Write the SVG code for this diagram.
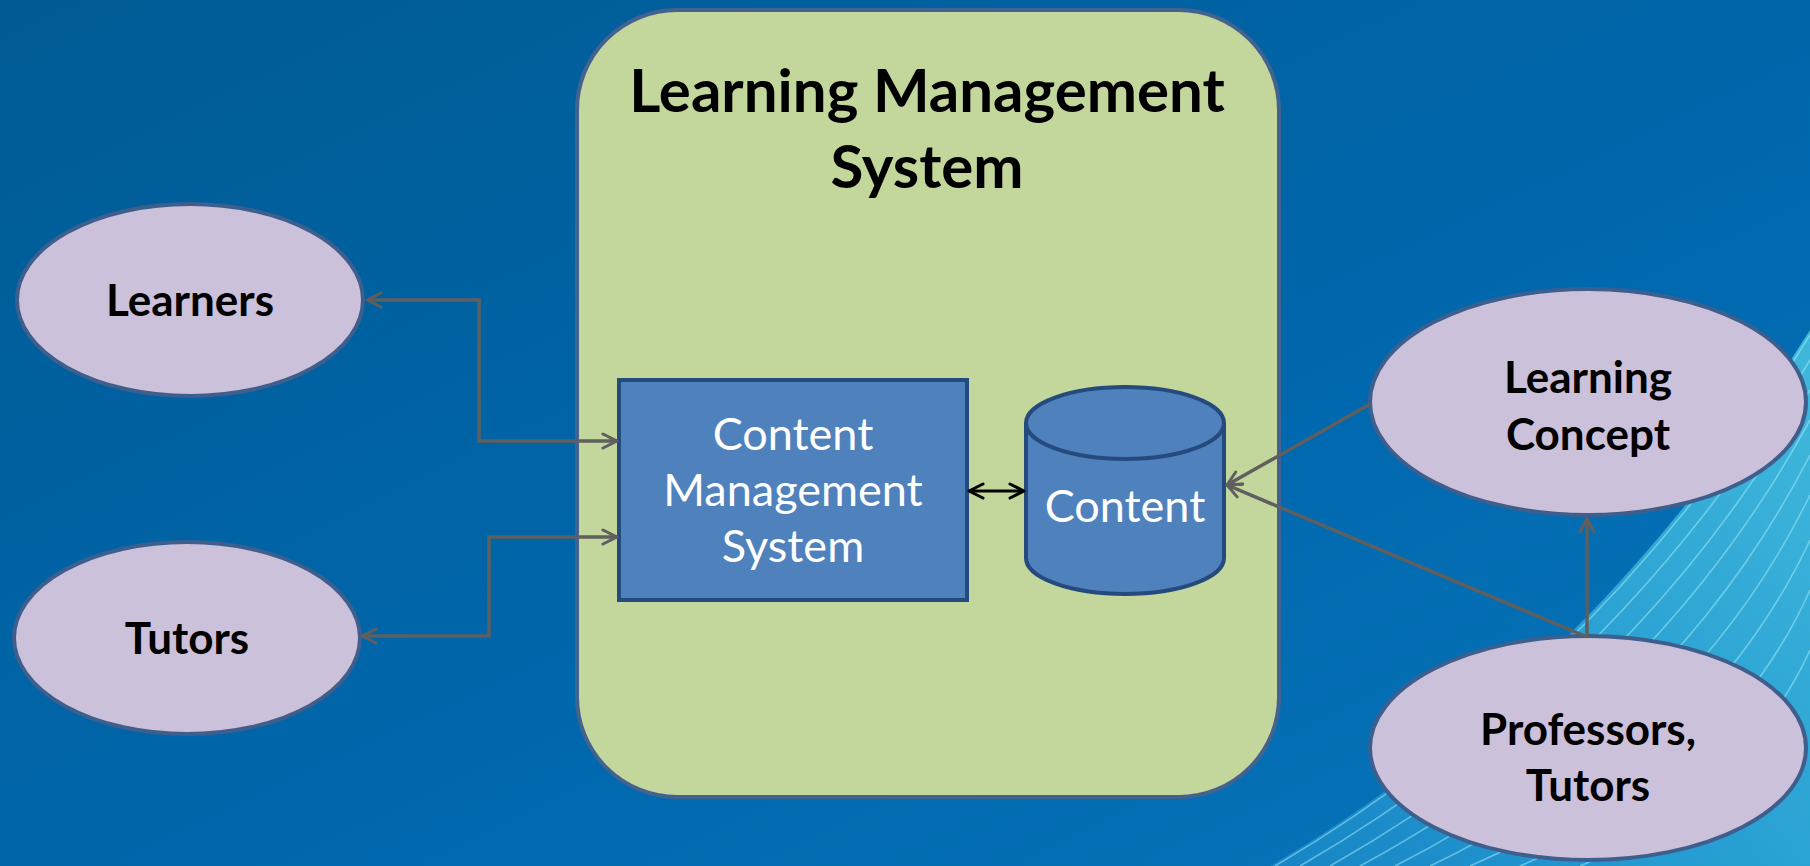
<svg xmlns="http://www.w3.org/2000/svg" width="1810" height="866" viewBox="0 0 1810 866">
<defs>
<linearGradient id="bg" x1="0" y1="0" x2="1" y2="1">
<stop offset="0" stop-color="#005b94"/>
<stop offset="0.6" stop-color="#0068ae"/>
<stop offset="1" stop-color="#0a76bb"/>
</linearGradient>
<linearGradient id="swoosh" x1="1300" y1="866" x2="1810" y2="400" gradientUnits="userSpaceOnUse">
<stop offset="0" stop-color="#1f8fcc" stop-opacity="0.7"/>
<stop offset="0.4" stop-color="#2aa3d6" stop-opacity="0.85"/>
<stop offset="1" stop-color="#45bfdf" stop-opacity="0.9"/>
</linearGradient>
<marker id="arr" viewBox="0 0 20 20" refX="18" refY="10" markerWidth="20" markerHeight="20" markerUnits="userSpaceOnUse" orient="auto-start-reverse">
<path d="M4,3 L18,10 L4,17" fill="none" stroke="#5f5f5f" stroke-width="3" stroke-linecap="round" stroke-linejoin="round"/>
</marker>
<marker id="arrk" viewBox="0 0 20 20" refX="18" refY="10" markerWidth="20" markerHeight="20" markerUnits="userSpaceOnUse" orient="auto-start-reverse">
<path d="M4,3 L18,10 L4,17" fill="none" stroke="#000" stroke-width="3" stroke-linecap="round" stroke-linejoin="round"/>
</marker>
</defs>
<style>
.actor{fill:#ccc1da;stroke:#3e5f8d;stroke-width:4}
.lbl{font-family:Lato,"Open Sans",sans-serif;font-weight:bold;font-size:44px;fill:#000;text-anchor:middle}
.wl{font-family:Lato,"Open Sans",sans-serif;font-size:45px;fill:#fff;text-anchor:middle}
.con{fill:none;stroke:#5f5f5f;stroke-width:3.5}
.streak{fill:none;stroke:#a8f0fa;stroke-width:1.6;opacity:0.5}
</style>
<rect width="1810" height="866" fill="url(#bg)"/>
<g id="background-swoosh">
<path d="M1270,866 C1450,760 1640,600 1810,330 L1810,866 Z" fill="url(#swoosh)"/>
<path class="streak" d="M1275,866 C1455,760 1645,600 1810,335"/>
<path class="streak" d="M1300,866 C1475,765 1660,610 1810,360"/>
<path class="streak" d="M1330,866 C1500,770 1675,625 1810,390"/>
<path class="streak" d="M1360,866 C1520,780 1690,640 1810,420"/>
<path class="streak" d="M1395,866 C1545,790 1705,660 1810,455"/>
<path class="streak" d="M1430,866 C1570,800 1720,680 1810,495"/>
<path class="streak" d="M1470,866 C1600,810 1735,700 1810,540"/>
<path class="streak" d="M1520,866 C1630,820 1750,725 1810,590"/>
<path class="streak" d="M1580,866 C1670,830 1765,750 1810,650"/>
</g>
<g id="lms">
<rect x="577" y="10" width="702" height="787" rx="100" ry="100" fill="#c3d69b" stroke="#43628f" stroke-width="4"/>
<text class="lbl" x="927" y="112" style="font-size:60px">Learning Management</text>
<text class="lbl" x="927" y="188" style="font-size:60px">System</text>
</g>
<g id="cms">
<rect x="619" y="380" width="348" height="220" fill="#4f81bd" stroke="#254a7d" stroke-width="4"/>
<text class="wl" x="793" y="450">Content</text>
<text class="wl" x="793" y="506">Management</text>
<text class="wl" x="793" y="562">System</text>
</g>
<g id="content">
<path d="M1026,423 L1026,558 A99,36 0 0 0 1224,558 L1224,423" fill="#4f81bd" stroke="#254a7d" stroke-width="4"/>
<ellipse cx="1125" cy="423" rx="99" ry="36" fill="#4f81bd" stroke="#254a7d" stroke-width="4"/>
<text class="wl" x="1125" y="522">Content</text>
</g>
<g id="learners">
<ellipse class="actor" cx="190" cy="300" rx="173" ry="96"/>
<text class="lbl" x="190" y="316">Learners</text>
</g>
<g id="tutors">
<ellipse class="actor" cx="187" cy="638" rx="173" ry="96"/>
<text class="lbl" x="187" y="654">Tutors</text>
</g>
<g id="learning-concept">
<ellipse class="actor" cx="1588" cy="402" rx="218" ry="113"/>
<text class="lbl" x="1588" y="393">Learning</text>
<text class="lbl" x="1588" y="450">Concept</text>
</g>
<g id="professors">
<ellipse class="actor" cx="1588" cy="748" rx="218" ry="112"/>
<text class="lbl" x="1588" y="745">Professors,</text>
<text class="lbl" x="1588" y="801">Tutors</text>
</g>
<g id="connectors">
<polyline class="con" points="367,300 479,300 479,441 617,441" marker-start="url(#arr)" marker-end="url(#arr)"/>
<polyline class="con" points="362,636 489,636 489,537 617,537" marker-start="url(#arr)" marker-end="url(#arr)"/>
<line x1="969" y1="491" x2="1024" y2="491" fill="none" stroke="#000" stroke-width="3" marker-start="url(#arrk)" marker-end="url(#arrk)"/>
<line class="con" x1="1370" y1="404" x2="1227" y2="485" marker-end="url(#arr)"/>
<line class="con" x1="1587" y1="637" x2="1227" y2="485" marker-end="url(#arr)"/>
<line class="con" x1="1587" y1="637" x2="1587" y2="518" marker-end="url(#arr)"/>
</g>
</svg>
